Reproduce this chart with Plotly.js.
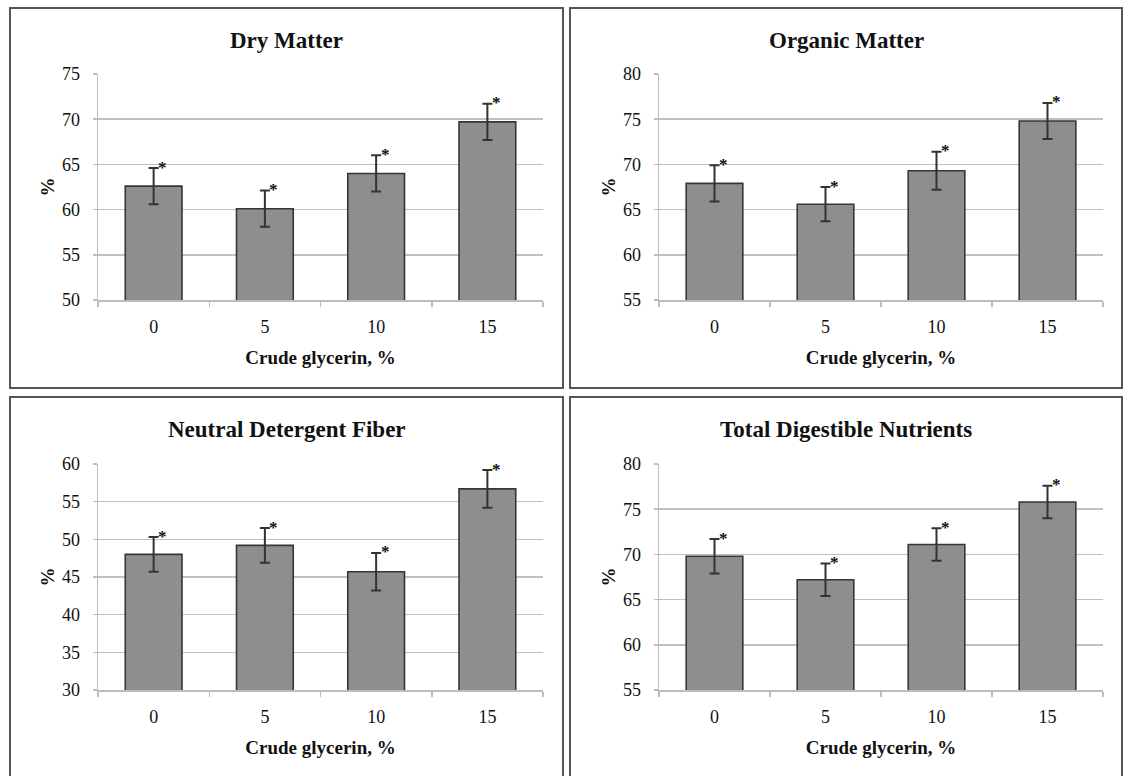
<!DOCTYPE html>
<html>
<head>
<meta charset="utf-8">
<script src="https://cdn.plot.ly/plotly-3.0.1.min.js"></script>
<style>
  html, body { margin: 0; padding: 0; background: #ffffff; }
  #chart { width: 1125px; height: 776px; }
</style>
</head>
<body>
<div id="chart"></div>
<script>
// ---- data ----
const categories = ['0', '5', '10', '15'];
const panelTitles = ['Dry Matter', 'Organic Matter', 'Neutral Detergent Fiber', 'Total Digestible Nutrients'];
const dryMatter = [62.6, 60.1, 64.0, 69.7];
const dryMatterErr = [2.0, 2.0, 2.0, 2.0];
const organicMatter = [67.9, 65.6, 69.3, 74.8];
const organicMatterErr = [2.0, 1.9, 2.1, 2.0];
const ndf = [48.0, 49.2, 45.7, 56.7];
const ndfErr = [2.3, 2.3, 2.5, 2.5];
const tdn = [69.8, 67.2, 71.1, 75.8];
const tdnErr = [1.9, 1.8, 1.8, 1.8];
const yRanges = [[50, 75], [55, 80], [30, 60], [55, 80]];
const xTitle = 'Crude glycerin, %';
const yTitle = '%';

const seriesList = [dryMatter, organicMatter, ndf, tdn];
const errList = [dryMatterErr, organicMatterErr, ndfErr, tdnErr];

// ---- layout geometry (paper fractions) ----
const W = 1125, H = 776;
const px = v => v / W;
const py = v => 1 - v / H;
const xDomains = [[px(98), px(543)], [px(659), px(1103)], [px(98), px(543)], [px(659), px(1103)]];
const yDomains = [[py(300), py(74)], [py(300), py(74)], [py(690), py(464)], [py(690), py(464)]];
const boxes = [[10, 8, 563, 388], [570, 8, 1122, 388], [10, 397, 563, 790], [570, 397, 1122, 790]];

const serif = 'Liberation Serif';
const gridCol = '#c0c0c0';

const traces = [];
const annotations = [];
const shapes = [];
const layout = {
  width: W, height: H,
  margin: { l: 0, r: 0, t: 0, b: 0 },
  paper_bgcolor: '#ffffff',
  plot_bgcolor: '#ffffff',
  showlegend: false,
  font: { family: serif, color: '#111111', size: 18 },
  bargap: 0.49
};

seriesList.forEach((vals, i) => {
  const n = i + 1;
  const xa = n === 1 ? 'x' : 'x' + n;
  const ya = n === 1 ? 'y' : 'y' + n;
  traces.push({
    type: 'bar',
    x: categories,
    y: vals,
    xaxis: xa, yaxis: ya,
    marker: { color: '#8e8e8e', line: { color: '#363636', width: 1.6 } },
    error_y: { type: 'data', array: errList[i], visible: true, color: '#333333', thickness: 2, width: 5 },
    hoverinfo: 'x+y'
  });
  const xKey = n === 1 ? 'xaxis' : 'xaxis' + n;
  const yKey = n === 1 ? 'yaxis' : 'yaxis' + n;
  layout[xKey] = {
    domain: xDomains[i],
    anchor: ya,
    type: 'category',
    categoryorder: 'array', categoryarray: categories,
    range: [-0.5, categories.length - 0.5],
    autorange: false,
    showgrid: false,
    showline: true, linecolor: '#bdbdbd', linewidth: 1.5,
    ticks: 'outside', tickson: 'boundaries', ticklen: 5, tickcolor: '#bdbdbd', tickwidth: 1.5,
    tickfont: { family: serif, size: 18, color: '#111111' },
    ticklabelstandoff: 10,
    title: { text: '<b>' + xTitle + '</b>', font: { family: serif, size: 19, color: '#111111' }, standoff: 14 },
    fixedrange: true
  };
  layout[yKey] = {
    domain: yDomains[i],
    anchor: xa,
    range: yRanges[i],
    autorange: false,
    dtick: 5,
    showgrid: true, gridcolor: gridCol, gridwidth: 1.5,
    showline: true, linecolor: '#bdbdbd', linewidth: 1.5,
    ticks: 'outside', ticklen: 4, tickcolor: '#bdbdbd', tickwidth: 1.5,
    tickfont: { family: serif, size: 18, color: '#111111' },
    ticklabelstandoff: 9,
    zeroline: false,
    title: { text: '<b>' + yTitle + '</b>', font: { family: serif, size: 19, color: '#111111' }, standoff: 2 },
    fixedrange: true
  };
  // panel title
  const b = boxes[i];
  annotations.push({
    xref: 'paper', yref: 'paper',
    x: px((b[0] + b[2]) / 2), y: py(b[1] + 32),
    xanchor: 'center', yanchor: 'middle',
    text: '<b>' + panelTitles[i] + '</b>',
    showarrow: false,
    font: { family: serif, size: 23, color: '#111111' }
  });
  // asterisks at top of error bars (x = category index)
  categories.forEach((c, k) => {
    annotations.push({
      xref: xa, yref: ya,
      x: k, y: vals[k] + errList[i][k],
      text: '<b>*</b>',
      showarrow: false,
      xanchor: 'center', yanchor: 'middle',
      xshift: 9, yshift: 1,
      font: { family: serif, size: 17, color: '#111111' }
    });
  });
  // panel border
  shapes.push({
    type: 'rect', xref: 'paper', yref: 'paper',
    x0: px(b[0]), x1: px(b[2]), y0: py(b[3]), y1: py(b[1]),
    line: { color: '#555555', width: 2 }, fillcolor: 'rgba(0,0,0,0)'
  });
});

layout.annotations = annotations;
layout.shapes = shapes;

Plotly.newPlot('chart', traces, layout, { displayModeBar: false, staticPlot: true });
</script>
</body>
</html>
